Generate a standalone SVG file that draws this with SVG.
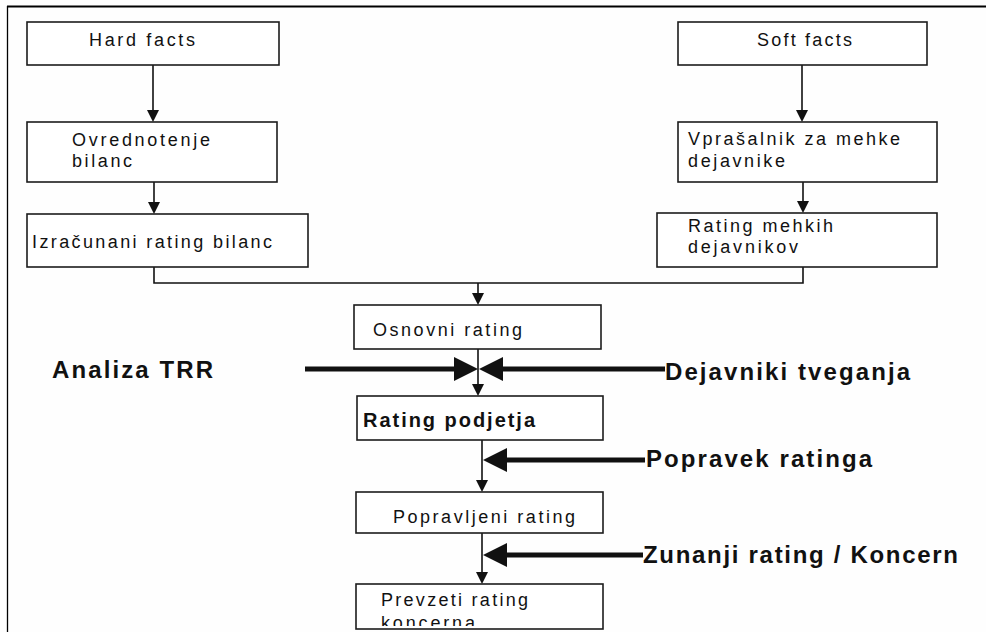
<svg xmlns="http://www.w3.org/2000/svg" width="986" height="632" viewBox="0 0 986 632">
  <style>
    .box { fill: #ffffff; stroke: #1c1c1c; stroke-width: 1.6; }
    .txt { font-family: "Liberation Sans", Arial, sans-serif; font-size: 18px; fill: #111; }
    .big { font-family: "Liberation Sans", Arial, sans-serif; font-size: 24px; font-weight: bold; fill: #111; }
    .mid { font-family: "Liberation Sans", Arial, sans-serif; font-size: 20px; font-weight: bold; fill: #111; }
    .wire { fill: none; stroke: #111; stroke-width: 1.6; }
    .thick { fill: none; stroke: #111; stroke-width: 5; }
    .frame { stroke: #000; fill: none; }
  </style>
  <defs>
    <marker id="head" markerUnits="userSpaceOnUse" markerWidth="12" markerHeight="12" viewBox="0 0 12 12" refX="0" refY="6" orient="auto">
      <path d="M0,0 L12,6 L0,12 z" fill="#111"/>
    </marker>
    <marker id="bighead" markerUnits="userSpaceOnUse" markerWidth="24" markerHeight="24" viewBox="0 0 24 24" refX="0" refY="12" orient="auto">
      <path d="M0,0 L24,12 L0,24 z" fill="#111"/>
    </marker>
    <clipPath id="clipPrevzeti">
      <rect x="357" y="585" width="245" height="41"/>
    </clipPath>
  </defs>

  <rect width="986" height="632" fill="#fefefe"/>

  <!-- page frame -->
  <line class="frame" x1="7" y1="6.5" x2="986" y2="6.5" stroke-width="2.2"/>
  <line class="frame" x1="7.5" y1="6" x2="7.5" y2="632" stroke-width="1.3"/>

  <!-- connectors -->
  <g id="connectors">
    <line class="wire" x1="153" y1="65" x2="153" y2="110" marker-end="url(#head)"/>
    <line class="wire" x1="154" y1="167" x2="154" y2="202" marker-end="url(#head)"/>
    <line class="wire" x1="802" y1="65" x2="802" y2="110" marker-end="url(#head)"/>
    <line class="wire" x1="803" y1="167" x2="803" y2="201" marker-end="url(#head)"/>
    <polyline class="wire" points="154,260 154,283 803,283 803,260"/>
    <line class="wire" x1="478" y1="283" x2="478" y2="293" marker-end="url(#head)"/>
    <line class="wire" x1="478" y1="349" x2="478" y2="384" marker-end="url(#head)"/>
    <line class="wire" x1="482" y1="440" x2="482" y2="480" marker-end="url(#head)"/>
    <line class="wire" x1="482" y1="533" x2="482" y2="572" marker-end="url(#head)"/>

    <line class="thick" x1="305" y1="369" x2="454" y2="369" marker-end="url(#bighead)"/>
    <line class="thick" x1="665" y1="369" x2="503" y2="369" marker-end="url(#bighead)"/>
    <line class="thick" x1="645" y1="460" x2="507" y2="460" marker-end="url(#bighead)"/>
    <line class="thick" x1="643" y1="555" x2="507" y2="555" marker-end="url(#bighead)"/>
  </g>

  <!-- nodes -->
  <g id="hard-facts">
    <rect class="box" x="27" y="22" width="252" height="43"/>
    <text class="txt" x="89" y="46" textLength="106">Hard facts</text>
  </g>
  <g id="ovrednotenje">
    <rect class="box" x="27" y="122" width="250" height="60"/>
    <text class="txt" x="72" y="146" textLength="138">Ovrednotenje</text>
    <text class="txt" x="72" y="167" textLength="60">bilanc</text>
  </g>
  <g id="izracunani">
    <rect class="box" x="27" y="214" width="281" height="53"/>
    <text class="txt" x="32" y="248" textLength="240">Izračunani rating bilanc</text>
  </g>
  <g id="soft-facts">
    <rect class="box" x="678" y="22" width="249" height="43"/>
    <text class="txt" x="757" y="46" textLength="95">Soft facts</text>
  </g>
  <g id="vprasalnik">
    <rect class="box" x="678" y="122" width="259" height="60"/>
    <text class="txt" x="688" y="145" textLength="212">Vprašalnik za mehke</text>
    <text class="txt" x="688" y="167" textLength="97">dejavnike</text>
  </g>
  <g id="rating-mehkih">
    <rect class="box" x="657" y="213" width="280" height="54"/>
    <text class="txt" x="688" y="232" textLength="145">Rating mehkih</text>
    <text class="txt" x="688" y="253" textLength="110">dejavnikov</text>
  </g>
  <g id="osnovni">
    <rect class="box" x="354" y="305" width="247" height="44"/>
    <text class="txt" x="373" y="336" textLength="149">Osnovni rating</text>
  </g>
  <g id="rating-podjetja">
    <rect class="box" x="357" y="396" width="246" height="44"/>
    <text class="mid" x="363" y="427" textLength="172">Rating podjetja</text>
  </g>
  <g id="popravljeni">
    <rect class="box" x="356" y="492" width="247" height="41"/>
    <text class="txt" x="393" y="523" textLength="182">Popravljeni rating</text>
  </g>
  <g id="prevzeti">
    <rect class="box" x="356" y="584" width="247" height="45"/>
    <g clip-path="url(#clipPrevzeti)">
      <text class="txt" x="381" y="606" textLength="147">Prevzeti rating</text>
      <text class="txt" x="381" y="629" textLength="94">koncerna</text>
    </g>
  </g>

  <!-- side labels -->
  <g id="analiza-trr">
    <text class="big" x="52" y="378" font-size="22" textLength="161">Analiza TRR</text>
  </g>
  <g id="dejavniki-tveganja">
    <text class="big" x="665" y="380" textLength="245">Dejavniki tveganja</text>
  </g>
  <g id="popravek-ratinga">
    <text class="big" x="646" y="467" textLength="226">Popravek ratinga</text>
  </g>
  <g id="zunanji-rating">
    <text class="big" x="643" y="563" textLength="315">Zunanji rating / Koncern</text>
  </g>
</svg>
